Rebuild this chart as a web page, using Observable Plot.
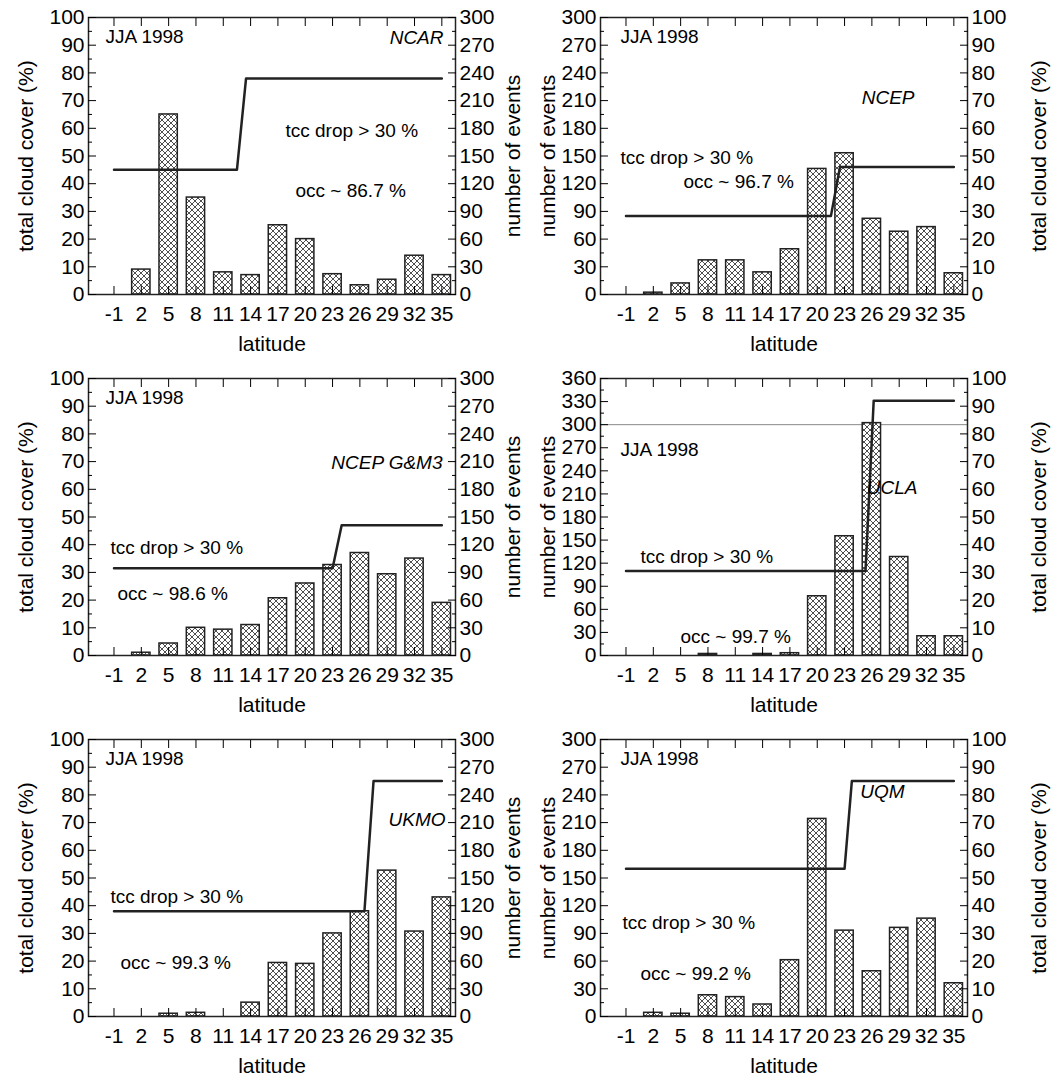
<html>
<head>
  <meta charset="utf-8">
  <script src="https://cdn.jsdelivr.net/npm/d3@7"></script>
  <script src="https://cdn.jsdelivr.net/npm/@observablehq/plot@0.6"></script>
  <style>
    body { margin: 0; background: white; }
    #grid { position: relative; width: 1063px; height: 1080px; }
    #grid svg { position: absolute; font-family: "Liberation Sans", Arial, sans-serif; }
  </style>
</head>
<body>
  <div id="grid"></div>
  <script>
    // latitude categories, same on every panel
    const lats = [-1, 2, 5, 8, 11, 14, 17, 20, 23, 26, 29, 32, 35];

    // number of events per latitude
    const ncarEvents  = [0, 27, 195, 105, 24, 21, 75, 60, 22, 10, 16, 42, 21];
    const ncepEvents  = [0, 2, 12, 37, 37, 24, 49, 136, 153, 82, 68, 73, 23];
    const gm3Events   = [0, 3, 13, 30, 28, 33, 62, 78, 98, 111, 88, 105, 57];
    const uclaEvents  = [0, 0, 0, 2, 0, 2, 3, 77, 155, 302, 128, 25, 25];
    const ukmoEvents  = [0, 0, 3, 4, 0, 15, 58, 57, 90, 114, 158, 92, 129];
    const uqmEvents   = [0, 4, 3, 23, 21, 13, 61, 214, 93, 49, 96, 106, 36];

    // total cloud cover lines (%): break points in latitude
    const ncarLineX = [-1, 12.5, 13.5, 35], ncarLineY = [45, 45, 78, 78];
    const ncepLineX = [-1, 21.5, 22.5, 35], ncepLineY = [28.3, 28.3, 46, 46];
    const gm3LineX  = [-1, 23, 24, 35],     gm3LineY  = [31.5, 31.5, 47, 47];
    const uclaLineX = [-1, 25.3, 26.2, 35], uclaLineY = [30.5, 30.5, 92, 92];
    const ukmoLineX = [-1, 26.5, 27.5, 35], ukmoLineY = [38, 38, 85, 85];
    const uqmLineX  = [-1, 23, 23.8, 35],   uqmLineY  = [53.3, 53.3, 85, 85];

    const panels = [
      {name: "NCAR", events: ncarEvents, lx: ncarLineX, ly: ncarLineY, side: "L",
       txt: {tcc: [197, 106], occ: [207, 166], occ_v: "86.7", model: [-12, 13], jja: [17, 12]}},
      {name: "NCEP", events: ncepEvents, lx: ncepLineX, ly: ncepLineY, side: "R",
       txt: {tcc: [20, 133], occ: [83, 157], occ_v: "96.7", model: [-53, 73], jja: [20, 12]}},
      {name: "NCEP G&M3", events: gm3Events, lx: gm3LineX, ly: gm3LineY, side: "L",
       txt: {tcc: [22, 162], occ: [29, 208], occ_v: "98.6", model: [-13, 77], jja: [17, 12]}},
      {name: "UCLA", events: uclaEvents, lx: uclaLineX, ly: uclaLineY, side: "R", max: 360,
       txt: {tcc: [40, 171], occ: [80, 251], occ_v: "99.7", model: [-50, 102], jja: [20, 64]}},
      {name: "UKMO", events: ukmoEvents, lx: ukmoLineX, ly: ukmoLineY, side: "L",
       txt: {tcc: [22, 150], occ: [32, 216], occ_v: "99.3", model: [-10, 73], jja: [17, 12]}},
      {name: "UQM", events: uqmEvents, lx: uqmLineX, ly: uqmLineY, side: "R",
       txt: {tcc: [22, 176], occ: [40, 227], occ_v: "99.2", model: [-63, 45], jja: [20, 12]}}
    ];

    const W = 531, H = 361;
    const grid = document.getElementById("grid");

    panels.forEach((p, i) => {
      const left = p.side === "L";
      const evMax = p.max || 300;
      const k = evMax / 100; // events per % of cloud cover
      const ml = left ? 88 : 69, mr = left ? 76 : 95;
      const id = "hatch" + i;

      // y scale in left-axis units: % for left panels, events for right panels
      const bars = lats.map((lat, j) => ({lat, v: left ? p.events[j] / k : p.events[j]}));
      const line = p.lx.map((x, j) => ({x, y: left ? p.ly[j] : p.ly[j] * k}));
      const yMax = left ? 100 : evMax;
      const leftStep = left ? 10 : 30;
      const majorL = d3.range(0, yMax + 0.1, leftStep);
      const minorL = d3.range(leftStep / 2, yMax, leftStep);
      // right axis tick positions in y units
      const majorR = left ? d3.range(0, 101, 10) : d3.range(0, 101, 10).map(t => t * k);
      const minorR = left ? d3.range(5, 100, 10) : d3.range(5, 100, 10).map(t => t * k);
      const rFmt = left ? (t => String(Math.round(t * k))) : (t => String(Math.round(t / k)));

      const font = {fontSize: 21, fill: "black"};
      const defs = () => {
        const d = d3.create("svg:defs");
        const pat = d.append("pattern").attr("id", id).attr("patternUnits", "userSpaceOnUse")
          .attr("width", 6).attr("height", 6);
        pat.append("rect").attr("width", 6).attr("height", 6).attr("fill", "white");
        pat.append("path").attr("d", "M0,0L6,6M6,0L0,6").attr("stroke", "#222").attr("stroke-width", 0.8);
        return d.node();
      };

      const txt = (text, pos, opts = {}) => Plot.text([text], {
        frameAnchor: pos[0] < 0 ? "top-right" : "top-left", dx: pos[0], dy: pos[1],
        textAnchor: pos[0] < 0 ? "end" : "start", fontSize: 19, fill: "black", ...opts
      });

      const chart = Plot.plot({
        width: W, height: H,
        marginLeft: ml, marginRight: mr, marginTop: 17, marginBottom: 67,
        x: {domain: [-3.8, 36.5]},
        y: {domain: [0, yMax]},
        style: {fontFamily: "Liberation Sans, Arial, sans-serif", overflow: "visible"},
        marks: [
          defs,
          p.max ? Plot.ruleY([300], {stroke: "#888", strokeWidth: 1}) : null,
          Plot.rectY(bars.filter(d => d.v > 0), {
            x1: d => d.lat - 1.5, x2: d => d.lat + 1.5, y: "v",
            insetLeft: 4.5, insetRight: 4.5, fill: `url(#${id})`, stroke: "#222", strokeWidth: 1.5
          }),
          Plot.line(line, {x: "x", y: "y", stroke: "#222", strokeWidth: 2.5}),
          Plot.frame({stroke: "#222", strokeWidth: 1.5}),
          // left axis
          Plot.axisY(majorL, {anchor: "left", tickSize: -8, tickPadding: 12, ...font,
            tickFormat: d => String(d),
            label: left ? "total cloud cover (%)" : "number of events",
            labelAnchor: "center", labelOffset: left ? 70 : 60, labelArrow: "none"}),
          Plot.axisY(minorL, {anchor: "left", tickSize: -4, text: null, label: null}),
          // right axis
          Plot.axisY(majorR, {anchor: "right", tickSize: -8, tickPadding: 12, ...font, tickFormat: rFmt,
            label: left ? "number of events" : "total cloud cover (%)",
            labelAnchor: "center", labelOffset: left ? 64 : 78, labelArrow: "none"}),
          Plot.axisY(minorR, {anchor: "right", tickSize: -4, text: null, label: null}),
          // latitude axes
          Plot.axisX(lats, {anchor: "bottom", tickSize: -8, tickPadding: 20, ...font,
            tickFormat: d => String(d), label: "latitude", labelAnchor: "center", labelOffset: 56, labelArrow: "none"}),
          Plot.axisX(lats, {anchor: "top", tickSize: -8, text: null, label: null}),
          txt("JJA 1998", p.txt.jja),
          txt(p.name, p.txt.model, {fontStyle: "italic"}),
          txt("tcc drop > 30 %", p.txt.tcc),
          txt(`occ ~ ${p.txt.occ_v} %`, p.txt.occ)
        ]
      });
      chart.style.left = (i % 2) * W + "px";
      chart.style.top = Math.floor(i / 2) * H + "px";
      grid.appendChild(chart);
    });
  </script>
</body>
</html>
